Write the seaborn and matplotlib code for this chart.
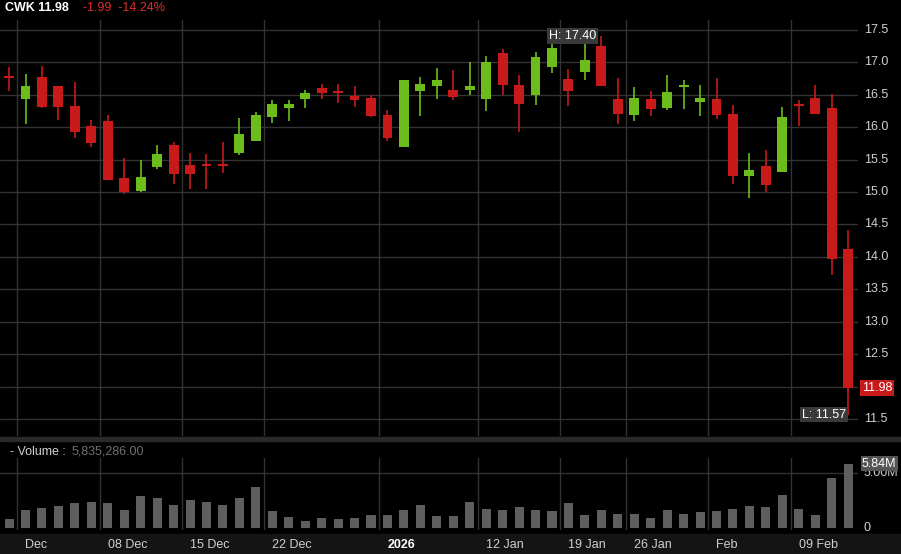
import numpy as np
import pandas as pd
import matplotlib
matplotlib.use("Agg")
import matplotlib.pyplot as plt
import seaborn as sns

sns.set_style("dark")
plt.rcParams['font.family'] = ['Liberation Sans', 'DejaVu Sans']

# OHLC data (52 sessions, 28 Nov 2025 - 12 Feb 2026)
opens = [16.78, 16.44, 16.77, 16.64, 16.33, 16.01, 16.10, 15.22, 15.02, 15.38,
         15.72, 15.42, 15.41, 15.41, 15.60, 15.79, 16.15, 16.29, 16.44, 16.60,
         16.54, 16.48, 16.45, 16.18, 15.70, 16.56, 16.64, 16.57, 16.57, 16.44,
         17.14, 16.65, 16.50, 16.93, 16.74, 16.85, 17.25, 16.44, 16.19, 16.44,
         16.30, 16.62, 16.38, 16.44, 16.20, 15.25, 15.40, 15.31, 16.34, 16.45,
         16.29, 14.12]
highs = [16.92, 16.82, 16.94, 16.64, 16.70, 16.11, 16.18, 15.52, 15.49, 15.72,
         15.77, 15.60, 15.58, 15.77, 16.14, 16.23, 16.42, 16.41, 16.57, 16.66,
         16.66, 16.64, 16.50, 16.26, 16.73, 16.77, 16.91, 16.88, 17.00, 17.09,
         17.21, 16.81, 17.16, 17.29, 16.89, 17.29, 17.40, 16.76, 16.62, 16.56,
         16.80, 16.72, 16.65, 16.75, 16.34, 15.60, 15.65, 16.31, 16.42, 16.65,
         16.51, 14.41]
lows = [16.56, 16.05, 16.30, 16.11, 15.83, 15.70, 15.19, 14.97, 15.00, 15.35,
        15.12, 15.04, 15.04, 15.30, 15.57, 15.79, 16.07, 16.09, 16.29, 16.43,
        16.37, 16.31, 16.15, 15.79, 15.70, 16.17, 16.43, 16.41, 16.50, 16.25,
        16.49, 15.93, 16.34, 16.83, 16.32, 16.73, 16.63, 16.05, 16.09, 16.17,
        16.27, 16.28, 16.17, 16.12, 15.13, 14.90, 15.00, 15.31, 16.01, 16.20,
        13.72, 11.57]
closes = [16.76, 16.64, 16.31, 16.31, 15.93, 15.76, 15.19, 15.00, 15.23, 15.58,
          15.27, 15.28, 15.40, 15.40, 15.90, 16.18, 16.35, 16.35, 16.53, 16.52,
          16.52, 16.41, 16.17, 15.83, 16.73, 16.67, 16.72, 16.46, 16.64, 17.01,
          16.65, 16.35, 17.08, 17.22, 16.55, 17.04, 16.63, 16.20, 16.45, 16.28,
          16.54, 16.63, 16.45, 16.19, 15.25, 15.34, 15.10, 16.16, 16.32, 16.20,
          13.97, 11.98]
volume_m = [0.78, 1.65, 1.82, 2.00, 2.25, 2.34, 2.25, 1.65, 2.95, 2.77,
            2.08, 2.51, 2.34, 2.08, 2.77, 3.73, 1.56, 1.04, 0.61, 0.87,
            0.78, 0.87, 1.21, 1.21, 1.65, 2.08, 1.13, 1.13, 2.34, 1.73,
            1.65, 1.91, 1.65, 1.56, 2.25, 1.21, 1.65, 1.30, 1.30, 0.95,
            1.65, 1.30, 1.47, 1.56, 1.73, 2.00, 1.91, 3.03, 1.73, 1.21,
            4.51, 5.84]
last_volume = 5835286
date_ticks = [1, 6, 11, 16, 23, 29, 34, 38, 43, 48]
date_labels = ['Dec', '08 Dec', '15 Dec', '22 Dec', '2026', '12 Jan',
               '19 Jan', '26 Jan', 'Feb', '09 Feb']
price_ticks = [11.5, 12.0, 12.5, 13.0, 13.5, 14.0, 14.5, 15.0, 15.5, 16.0,
               16.5, 17.0, 17.5]

df = pd.DataFrame({'open': opens, 'high': highs, 'low': lows,
                   'close': closes, 'vol': volume_m})
df['idx'] = np.arange(len(df))
up = df['close'] >= df['open']
GREEN, RED, GRID, TXT = '#6cbd1c', '#c8191b', '#333333', '#d0d0d0'

W, H = 901, 554
fig = plt.figure(figsize=(W / 100, H / 100), dpi=100, facecolor='black')
ax = fig.add_axes([0, 1 - 436 / H, 858 / W, 416 / H], facecolor='black')
axv = fig.add_axes([0, 1 - 530 / H, 858 / W, 72 / H], facecolor='black')

xlim = (-0.55, 51.6)
# grid
for a in (ax, axv):
    for t in date_ticks:
        a.axvline(t - 0.5, color=GRID, lw=1, zorder=0)
    a.set_xlim(*xlim)
    a.set_xticks([])
    a.set_yticks([])
    for s in a.spines.values():
        s.set_visible(False)
for p in price_ticks:
    ax.axhline(p, color=GRID, lw=1, zorder=0)
axv.axhline(5.0, color=GRID, lw=1, zorder=0)

# candles
colors = np.where(up, GREEN, RED)
ax.vlines(df['idx'], df['low'], df['high'], colors=colors, lw=1.2, zorder=2)
body = (df['close'] - df['open']).abs().clip(lower=0.03)
bottom = df[['open', 'close']].min(axis=1)
ax.bar(df['idx'], body, bottom=bottom, width=0.6, color=colors,
       linewidth=0, edgecolor='none', zorder=3)
ax.set_ylim(11.24, 17.65)

# price labels
for p in price_ticks:
    fig.text(864 / W, ax.transData.transform((0, p))[1] / H, f'{p:.1f}',
             color=TXT, fontsize=9, va='center', ha='left')
last = closes[-1]
yl = ax.transData.transform((0, last))[1] / H
fig.text(862 / W, yl, f'{last:.2f}', color='white', fontsize=9, va='center',
         ha='left', bbox=dict(boxstyle='square,pad=0.15', fc=RED, ec='none'))

# high / low labels
ax.text(35.7, 17.40, f'H: {max(highs):.2f}', color='white', fontsize=9,
        ha='right', va='center', zorder=5,
        bbox=dict(boxstyle='square,pad=0.15', fc='#3a3a3a', ec='none'))
ax.text(50.9, 11.57, f'L: {min(lows):.2f}', color='white', fontsize=9,
        ha='right', va='center', zorder=5,
        bbox=dict(boxstyle='square,pad=0.15', fc='#3a3a3a', ec='none'))

# volume
sns.barplot(data=df, x='idx', y='vol', native_scale=True, color='#5e5e5e',
            saturation=1, width=0.55, linewidth=0, edgecolor='none',
            ax=axv, zorder=2)
axv.set_xlim(*xlim)
axv.set_ylim(-0.18, 6.36)
axv.set_xlabel('')
axv.set_ylabel('')
axv.set_xticks([])
axv.set_yticks([])
for v, lab in [(5.0, '5.00M'), (0.0, '0')]:
    fig.text(864 / W, axv.transData.transform((0, v))[1] / H, lab,
             color=TXT, fontsize=9, va='center', ha='left')
fig.text(862 / W, axv.transData.transform((0, volume_m[-1]))[1] / H,
         f'{volume_m[-1]:.2f}M', color='white', fontsize=9, va='center',
         ha='left', bbox=dict(boxstyle='square,pad=0.1', fc='#555555', ec='none'))
fig.text(10 / W, 1 - 452 / H, '- Volume :', color=TXT, fontsize=9, va='center')
fig.text(72 / W, 1 - 452 / H, f'{last_volume:,.2f}',
         color='#707070', fontsize=9, va='center')

# separator and date strip
fig.patches.append(plt.Rectangle((0, 1 - 441 / H), 1, 4 / H,
                                 transform=fig.transFigure, color='#2a2a2a'))
fig.patches.append(plt.Rectangle((0, 0), 1, 20 / H,
                                 transform=fig.transFigure, color='#141414'))
for t, lab in zip(date_ticks, date_labels):
    xp = ax.transData.transform((t - 0.5, 0))[0] / W
    fig.text(xp + 8 / W, 9 / H, lab, color='white' if lab == '2026' else TXT,
             fontsize=9, fontweight='bold' if lab == '2026' else 'normal',
             va='center', ha='left')

# header
change = closes[-1] - closes[-2]
fig.text(5 / W, 1 - 8 / H, f'CWK {last:.2f}', color='white', fontsize=9,
         fontweight='bold', va='center')
fig.text(83 / W, 1 - 8 / H, f'{change:.2f}  {change / closes[-2] * 100:.2f}%',
         color='#e03030', fontsize=9, va='center')

fig.savefig('out.png', dpi=100, facecolor='black')
